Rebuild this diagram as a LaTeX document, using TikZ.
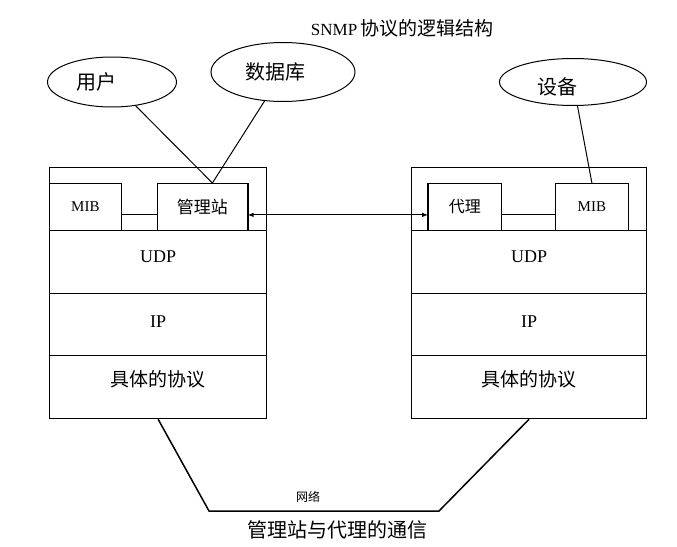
\documentclass[tikz,border=0pt]{standalone}
\usepackage{fontspec}
\setmainfont{Liberation Serif}
\newfontfamily\cjk{Noto Sans CJK SC}
\usetikzlibrary{arrows, shapes.geometric}

\begin{document}
\begin{tikzpicture}[x=1pt, y=-1pt,
  layer/.style = {draw, line width=1.2pt, inner sep=0pt, anchor=north west, minimum height=63pt},
  cell/.style = {draw, line width=0.8pt, inner sep=0pt, anchor=north west, minimum height=47pt},
  cloud/.style = {draw, ellipse, line width=1pt, inner sep=0pt},
  word/.style = {font=\cjk\fontsize{20}{20}\selectfont, xshift=-16pt},
  link/.style = {line width=1pt},
  latin/.style = {font=\fontsize{18}{18}\selectfont},
  han/.style = {font=\cjk\fontsize{19}{19}\selectfont, text depth=18pt}]
\useasboundingbox (0,0) rectangle (677,546);
\node (title) at (402,28) {\fontsize{17}{17}\selectfont SNMP\,\cjk\fontsize{19}{19}\selectfont 协议的逻辑结构};
\node[layer, minimum width=217pt] (ltop) at (49,167) {};
\node[layer, minimum width=217pt, latin, text depth=10pt] (ludp) at (49,230) {UDP};
\node[layer, minimum width=217pt, latin, minimum height=62pt, text depth=6pt] (lip) at (49,293) {IP};
\node[layer, minimum width=217pt, han] (lproto) at (49,355) {具体的协议};
\node[layer, minimum width=235pt] (rtop) at (411,167) {};
\node[layer, minimum width=235pt, latin, text depth=10pt] (rudp) at (411,230) {UDP};
\node[layer, minimum width=235pt, latin, minimum height=62pt, text depth=6pt] (rip) at (411,293) {IP};
\node[layer, minimum width=235pt, han] (rproto) at (411,355) {具体的协议};
\node[cell, minimum width=72pt, font=\fontsize{15}{15}\selectfont] (lmib) at (49,183) {MIB};
\node[cell, minimum width=90pt, font=\cjk\fontsize{17}{17}\selectfont] (lmgr) at (157,183) {管理站};
\node[cell, minimum width=73pt, font=\cjk\fontsize{16}{16}\selectfont] (ragent) at (428,183) {代理};
\node[cell, minimum width=73pt, font=\fontsize{15}{15}\selectfont] (rmib) at (555,183) {MIB};
\draw[line width=1.6pt] (lmgr.north east) -- (lmgr.south east);
\draw[line width=1.6pt] (ragent.north west) -- (ragent.south west);
\node[cloud, minimum width=129pt, minimum height=50pt, label={[word]center:用户}] (user) at (112,82) {};
\node[cloud, minimum width=144pt, minimum height=59pt, label={[word, xshift=8pt]center:数据库}] (db) at (283,72) {};
\node[cloud, minimum width=147pt, minimum height=47pt, label={[word, yshift=-5pt]center:设备}] (dev) at (573,82) {};
\draw[link] ([yshift=-8pt]lmib.east) -- ([yshift=-8pt]lmgr.west);
\draw[link] ([yshift=-8pt]ragent.east) -- ([yshift=-8pt]rmib.west);
\draw[link, latex-latex] ([yshift=-8pt]lmgr.east) -- ([yshift=-8pt]ragent.west);
\draw[link] (user) -- ([xshift=10pt]lmgr.north);
\draw[link] (db) -- ([xshift=10pt]lmgr.north);
\draw[link] (dev) -- (rmib.north);
\coordinate (nl) at (209,511);
\coordinate (nr) at (439,511);
\draw[line width=1.5pt] (lproto.south) -- (nl) -- (nr) -- (rproto.south);
\node[font=\cjk\fontsize{12}{12}\selectfont] (net) at (308,497) {网络};
\node[font=\cjk\fontsize{20}{20}\selectfont] (caption) at (337,530) {管理站与代理的通信};
\end{tikzpicture}
\end{document}
